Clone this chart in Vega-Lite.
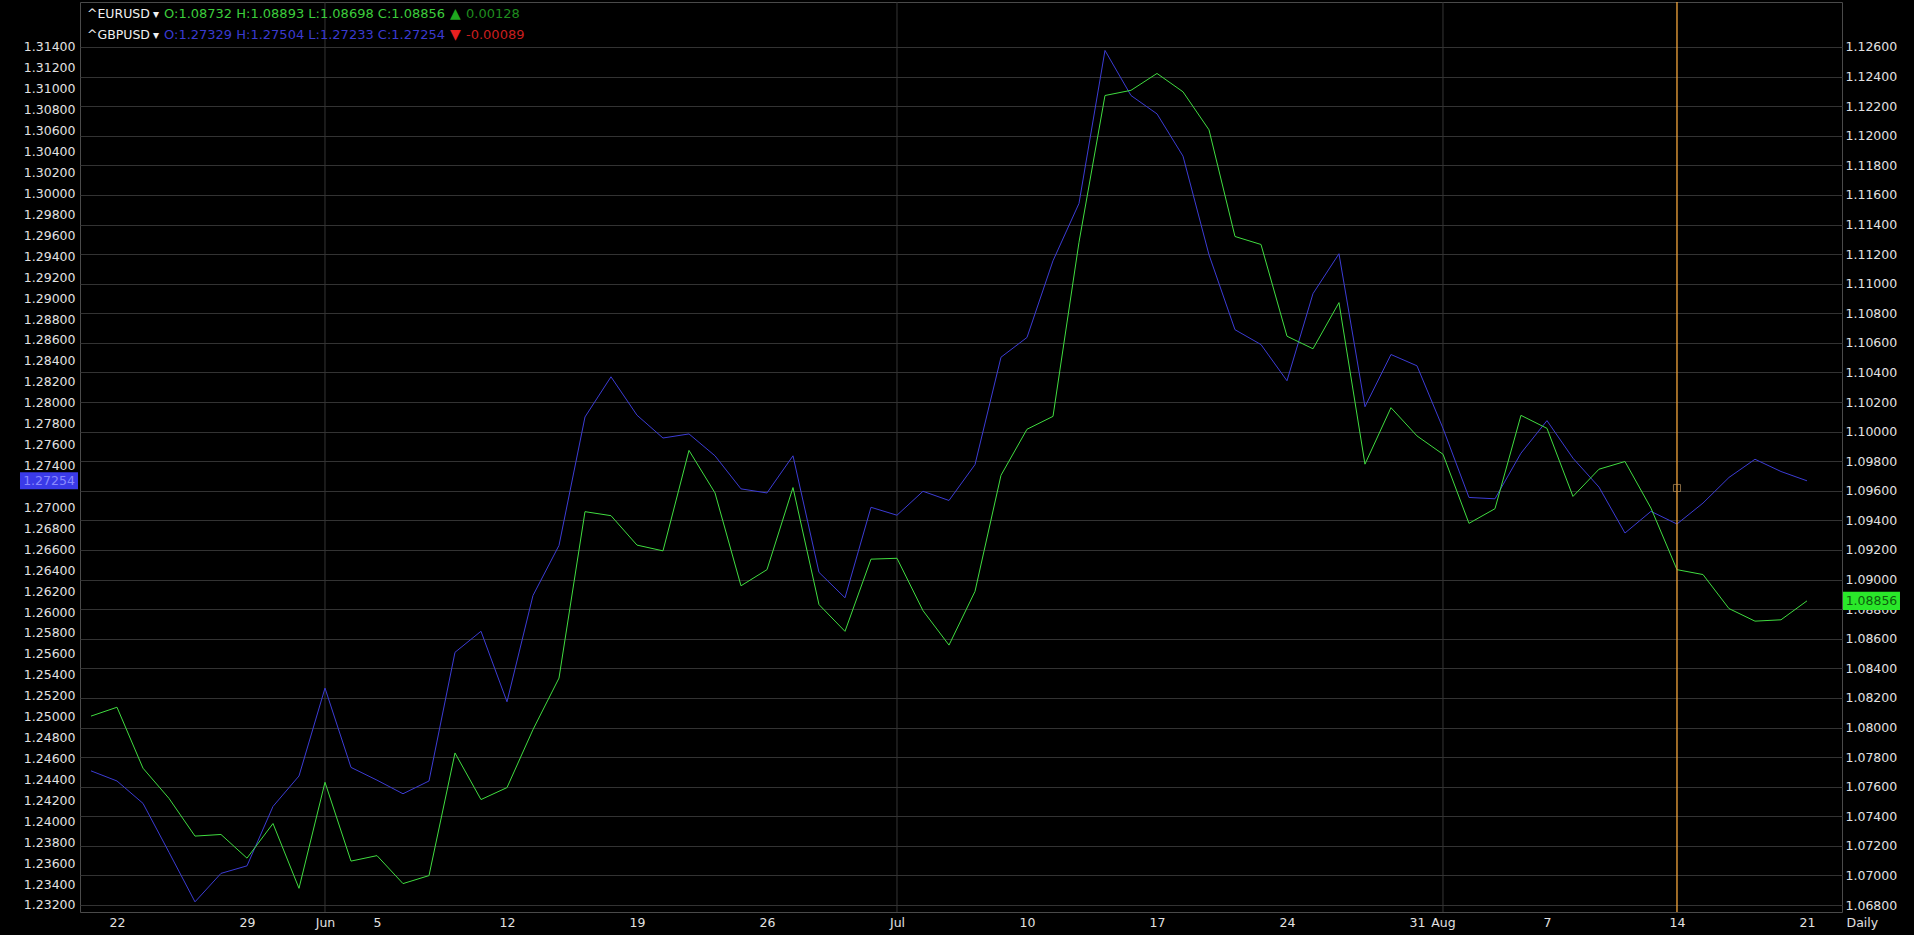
{
  "$schema": "https://vega.github.io/schema/vega-lite/v6.json",
  "width": 1762,
  "height": 910,
  "autosize": {"type": "none"},
  "padding": {"left": 80, "top": 2, "right": 72, "bottom": 23},
  "background": "#000000",
  "datasets": {
    "fx": [
      {"date": "2023-05-19", "gbp": 1.24482, "eur": 1.08077},
      {"date": "2023-05-22", "gbp": 1.24385, "eur": 1.08137},
      {"date": "2023-05-23", "gbp": 1.24171, "eur": 1.07725},
      {"date": "2023-05-24", "gbp": 1.23704, "eur": 1.07521},
      {"date": "2023-05-25", "gbp": 1.23230, "eur": 1.07266},
      {"date": "2023-05-26", "gbp": 1.23502, "eur": 1.07277},
      {"date": "2023-05-29", "gbp": 1.23574, "eur": 1.07117},
      {"date": "2023-05-30", "gbp": 1.24142, "eur": 1.07351},
      {"date": "2023-05-31", "gbp": 1.24433, "eur": 1.06913},
      {"date": "2023-06-01", "gbp": 1.25273, "eur": 1.07630},
      {"date": "2023-06-02", "gbp": 1.24515, "eur": 1.07097},
      {"date": "2023-06-05", "gbp": 1.24393, "eur": 1.07134},
      {"date": "2023-06-06", "gbp": 1.24263, "eur": 1.06945},
      {"date": "2023-06-07", "gbp": 1.24385, "eur": 1.06999},
      {"date": "2023-06-08", "gbp": 1.25615, "eur": 1.07828},
      {"date": "2023-06-09", "gbp": 1.25816, "eur": 1.07513},
      {"date": "2023-06-12", "gbp": 1.25142, "eur": 1.07594},
      {"date": "2023-06-13", "gbp": 1.26158, "eur": 1.07986},
      {"date": "2023-06-14", "gbp": 1.26636, "eur": 1.08334},
      {"date": "2023-06-15", "gbp": 1.27864, "eur": 1.09459},
      {"date": "2023-06-16", "gbp": 1.28248, "eur": 1.09432},
      {"date": "2023-06-19", "gbp": 1.27881, "eur": 1.09233},
      {"date": "2023-06-20", "gbp": 1.27663, "eur": 1.09194},
      {"date": "2023-06-21", "gbp": 1.27702, "eur": 1.09873},
      {"date": "2023-06-22", "gbp": 1.27493, "eur": 1.09586},
      {"date": "2023-06-23", "gbp": 1.27177, "eur": 1.08958},
      {"date": "2023-06-26", "gbp": 1.27138, "eur": 1.09067},
      {"date": "2023-06-27", "gbp": 1.27493, "eur": 1.09622},
      {"date": "2023-06-28", "gbp": 1.26379, "eur": 1.08831},
      {"date": "2023-06-29", "gbp": 1.26136, "eur": 1.08650},
      {"date": "2023-06-30", "gbp": 1.27001, "eur": 1.09138},
      {"date": "2023-07-03", "gbp": 1.26925, "eur": 1.09144},
      {"date": "2023-07-04", "gbp": 1.27154, "eur": 1.08790},
      {"date": "2023-07-05", "gbp": 1.27066, "eur": 1.08557},
      {"date": "2023-07-06", "gbp": 1.27409, "eur": 1.08920},
      {"date": "2023-07-07", "gbp": 1.28435, "eur": 1.09705},
      {"date": "2023-07-10", "gbp": 1.28624, "eur": 1.10016},
      {"date": "2023-07-11", "gbp": 1.29357, "eur": 1.10103},
      {"date": "2023-07-12", "gbp": 1.29905, "eur": 1.11280},
      {"date": "2023-07-13", "gbp": 1.31367, "eur": 1.12272},
      {"date": "2023-07-14", "gbp": 1.30936, "eur": 1.12307},
      {"date": "2023-07-17", "gbp": 1.30761, "eur": 1.12421},
      {"date": "2023-07-18", "gbp": 1.30357, "eur": 1.12297},
      {"date": "2023-07-19", "gbp": 1.29414, "eur": 1.12040},
      {"date": "2023-07-20", "gbp": 1.28698, "eur": 1.11319},
      {"date": "2023-07-21", "gbp": 1.28556, "eur": 1.11265},
      {"date": "2023-07-24", "gbp": 1.28210, "eur": 1.10645},
      {"date": "2023-07-25", "gbp": 1.29043, "eur": 1.10560},
      {"date": "2023-07-26", "gbp": 1.29424, "eur": 1.10872},
      {"date": "2023-07-27", "gbp": 1.27962, "eur": 1.09780},
      {"date": "2023-07-28", "gbp": 1.28461, "eur": 1.10162},
      {"date": "2023-07-31", "gbp": 1.28353, "eur": 1.09971},
      {"date": "2023-08-01", "gbp": 1.27756, "eur": 1.09847},
      {"date": "2023-08-02", "gbp": 1.27095, "eur": 1.09380},
      {"date": "2023-08-03", "gbp": 1.27082, "eur": 1.09479},
      {"date": "2023-08-04", "gbp": 1.27518, "eur": 1.10110},
      {"date": "2023-08-07", "gbp": 1.27829, "eur": 1.10022},
      {"date": "2023-08-08", "gbp": 1.27470, "eur": 1.09562},
      {"date": "2023-08-09", "gbp": 1.27194, "eur": 1.09746},
      {"date": "2023-08-10", "gbp": 1.26755, "eur": 1.09798},
      {"date": "2023-08-11", "gbp": 1.26962, "eur": 1.09483},
      {"date": "2023-08-14", "gbp": 1.26841, "eur": 1.09067},
      {"date": "2023-08-15", "gbp": 1.27041, "eur": 1.09034},
      {"date": "2023-08-16", "gbp": 1.27286, "eur": 1.08804},
      {"date": "2023-08-17", "gbp": 1.27460, "eur": 1.08719},
      {"date": "2023-08-18", "gbp": 1.27343, "eur": 1.08728},
      {"date": "2023-08-21", "gbp": 1.27254, "eur": 1.08856}
    ],
    "months": [
      {"date": "2023-06-01"},
      {"date": "2023-07-03"},
      {"date": "2023-08-01"}
    ],
    "one": [{}]
  },
  "layer": [
    {
      "data": {"name": "months"},
      "mark": {"type": "rule", "color": "#353535", "strokeWidth": 1},
      "encoding": {
        "x": {
          "field": "date",
          "type": "ordinal",
          "scale": {"type": "point", "padding": 0.885, "align": 0.239},
          "axis": {
            "values": ["2023-05-22", "2023-05-29", "2023-06-01", "2023-06-05", "2023-06-12", "2023-06-19", "2023-06-26", "2023-07-03", "2023-07-10", "2023-07-17", "2023-07-24", "2023-07-31", "2023-08-01", "2023-08-07", "2023-08-14", "2023-08-21"],
            "labelExpr": "datum.value == '2023-06-01' ? 'Jun' : datum.value == '2023-07-03' ? 'Jul' : datum.value == '2023-08-01' ? 'Aug' : '' + toNumber(substring(datum.value, 8, 10))",
            "labelAngle": 0,
            "labelOverlap": false,
            "tickCount": 100,
            "ticks": false,
            "domain": false,
            "grid": false,
            "labelPadding": 4,
            "title": "Daily",
            "titleX": 1766,
            "titleY": 10.5,
            "titleAlign": "left",
            "titleBaseline": "middle",
            "titleFontWeight": "normal",
            "titleFontSize": 12.5,
            "titleColor": "#e0e0e0",
            "titleFont": "DejaVu Sans"
          }
        }
      }
    },
    {
      "layer": [
        {
          "data": {"name": "fx"},
          "mark": {"type": "line", "color": "#3c3cd4", "strokeWidth": 1},
          "encoding": {
            "x": {"field": "date", "type": "ordinal"},
            "y": {
              "field": "gbp",
              "type": "quantitative",
              "scale": {"domain": [1.23133, 1.3183], "nice": false, "zero": false},
              "axis": {
                "orient": "left",
                "title": null,
                "values": [1.232, 1.234, 1.236, 1.238, 1.24, 1.242, 1.244, 1.246, 1.248, 1.25, 1.252, 1.254, 1.256, 1.258, 1.26, 1.262, 1.264, 1.266, 1.268, 1.27, 1.274, 1.276, 1.278, 1.28, 1.282, 1.284, 1.286, 1.288, 1.29, 1.292, 1.294, 1.296, 1.298, 1.3, 1.302, 1.304, 1.306, 1.308, 1.31, 1.312, 1.314],
                "format": ".5f",
                "tickCount": 100,
                "labelOverlap": false,
                "labelFlush": false,
                "grid": false,
                "ticks": false,
                "domain": false,
                "labelPadding": 5
              }
            }
          }
        },
        {
          "data": {"name": "one"},
          "mark": {"type": "point", "shape": "M-1,-0.293L1,-0.293L1,0.293L-1,0.293Z", "size": 3364, "filled": true, "color": "#3a3ae8", "opacity": 1, "strokeWidth": 0, "xOffset": -42},
          "encoding": {
            "x": {"datum": "2023-05-19", "type": "ordinal"},
            "y": {"datum": 1.27254, "type": "quantitative", "scale": {"domain": [1.23133, 1.3183], "nice": false, "zero": false}}
          }
        },
        {
          "data": {"name": "one"},
          "mark": {"type": "text", "text": "1.27254", "font": "DejaVu Sans", "fontSize": 12.5, "color": "#8a8aff", "align": "center", "baseline": "middle", "xOffset": -42},
          "encoding": {
            "x": {"datum": "2023-05-19", "type": "ordinal"},
            "y": {"datum": 1.27254, "type": "quantitative", "scale": {"domain": [1.23133, 1.3183], "nice": false, "zero": false}}
          }
        },
        {
          "data": {"name": "one"},
          "mark": {"type": "text", "text": "^EURUSD", "font": "DejaVu Sans", "fontSize": 12.5, "color": "#f0f0f0", "align": "left", "baseline": "middle", "xOffset": -4},
          "encoding": {
            "x": {"datum": "2023-05-19", "type": "ordinal"},
            "y": {"datum": 1.31715, "type": "quantitative", "scale": {"domain": [1.23133, 1.3183], "nice": false, "zero": false}}
          }
        },
        {
          "data": {"name": "one"},
          "mark": {"type": "text", "text": "▾", "font": "DejaVu Sans", "fontSize": 12, "color": "#f0f0f0", "align": "left", "baseline": "middle", "xOffset": 62},
          "encoding": {
            "x": {"datum": "2023-05-19", "type": "ordinal"},
            "y": {"datum": 1.31715, "type": "quantitative", "scale": {"domain": [1.23133, 1.3183], "nice": false, "zero": false}}
          }
        },
        {
          "data": {"name": "one"},
          "mark": {"type": "text", "text": "O:1.08732 H:1.08893 L:1.08698 C:1.08856", "font": "DejaVu Sans", "fontSize": 13, "color": "#3ccc3c", "align": "left", "baseline": "middle", "xOffset": 73},
          "encoding": {
            "x": {"datum": "2023-05-19", "type": "ordinal"},
            "y": {"datum": 1.31715, "type": "quantitative", "scale": {"domain": [1.23133, 1.3183], "nice": false, "zero": false}}
          }
        },
        {
          "data": {"name": "one"},
          "mark": {"type": "text", "text": "▲", "font": "DejaVu Sans", "fontSize": 14, "color": "#1fa81f", "align": "left", "baseline": "middle", "xOffset": 359},
          "encoding": {
            "x": {"datum": "2023-05-19", "type": "ordinal"},
            "y": {"datum": 1.31715, "type": "quantitative", "scale": {"domain": [1.23133, 1.3183], "nice": false, "zero": false}}
          }
        },
        {
          "data": {"name": "one"},
          "mark": {"type": "text", "text": "0.00128", "font": "DejaVu Sans", "fontSize": 13, "color": "#1f8c1f", "align": "left", "baseline": "middle", "xOffset": 375},
          "encoding": {
            "x": {"datum": "2023-05-19", "type": "ordinal"},
            "y": {"datum": 1.31715, "type": "quantitative", "scale": {"domain": [1.23133, 1.3183], "nice": false, "zero": false}}
          }
        },
        {
          "data": {"name": "one"},
          "mark": {"type": "text", "text": "^GBPUSD", "font": "DejaVu Sans", "fontSize": 12.5, "color": "#f0f0f0", "align": "left", "baseline": "middle", "xOffset": -4},
          "encoding": {
            "x": {"datum": "2023-05-19", "type": "ordinal"},
            "y": {"datum": 1.31515, "type": "quantitative", "scale": {"domain": [1.23133, 1.3183], "nice": false, "zero": false}}
          }
        },
        {
          "data": {"name": "one"},
          "mark": {"type": "text", "text": "▾", "font": "DejaVu Sans", "fontSize": 12, "color": "#f0f0f0", "align": "left", "baseline": "middle", "xOffset": 62},
          "encoding": {
            "x": {"datum": "2023-05-19", "type": "ordinal"},
            "y": {"datum": 1.31515, "type": "quantitative", "scale": {"domain": [1.23133, 1.3183], "nice": false, "zero": false}}
          }
        },
        {
          "data": {"name": "one"},
          "mark": {"type": "text", "text": "O:1.27329 H:1.27504 L:1.27233 C:1.27254", "font": "DejaVu Sans", "fontSize": 13, "color": "#3a3ad0", "align": "left", "baseline": "middle", "xOffset": 73},
          "encoding": {
            "x": {"datum": "2023-05-19", "type": "ordinal"},
            "y": {"datum": 1.31515, "type": "quantitative", "scale": {"domain": [1.23133, 1.3183], "nice": false, "zero": false}}
          }
        },
        {
          "data": {"name": "one"},
          "mark": {"type": "text", "text": "▼", "font": "DejaVu Sans", "fontSize": 14, "color": "#e82020", "align": "left", "baseline": "middle", "xOffset": 359},
          "encoding": {
            "x": {"datum": "2023-05-19", "type": "ordinal"},
            "y": {"datum": 1.31515, "type": "quantitative", "scale": {"domain": [1.23133, 1.3183], "nice": false, "zero": false}}
          }
        },
        {
          "data": {"name": "one"},
          "mark": {"type": "text", "text": "-0.00089", "font": "DejaVu Sans", "fontSize": 13, "color": "#c81e1e", "align": "left", "baseline": "middle", "xOffset": 375},
          "encoding": {
            "x": {"datum": "2023-05-19", "type": "ordinal"},
            "y": {"datum": 1.31515, "type": "quantitative", "scale": {"domain": [1.23133, 1.3183], "nice": false, "zero": false}}
          }
        }
      ]
    },
    {
      "layer": [
        {
          "data": {"name": "fx"},
          "mark": {"type": "line", "color": "#40dc40", "strokeWidth": 1},
          "encoding": {
            "x": {"field": "date", "type": "ordinal"},
            "y": {
              "field": "eur",
              "type": "quantitative",
              "scale": {"domain": [1.06753, 1.12904], "nice": false, "zero": false},
              "axis": {
                "orient": "right",
                "title": null,
                "values": [1.068, 1.07, 1.072, 1.074, 1.076, 1.078, 1.08, 1.082, 1.084, 1.086, 1.088, 1.09, 1.092, 1.094, 1.096, 1.098, 1.1, 1.102, 1.104, 1.106, 1.108, 1.11, 1.112, 1.114, 1.116, 1.118, 1.12, 1.122, 1.124, 1.126],
                "format": ".5f",
                "tickCount": 100,
                "labelOverlap": false,
                "labelFlush": false,
                "grid": true,
                "gridColor": "#333333",
                "gridWidth": 1,
                "ticks": false,
                "domain": false,
                "labelPadding": 3
              }
            }
          }
        },
        {
          "data": {"name": "one"},
          "mark": {"type": "rule", "color": "#f2a43c", "strokeWidth": 1.3},
          "encoding": {
            "x": {"datum": "2023-08-14", "type": "ordinal"}
          }
        },
        {
          "data": {"name": "one"},
          "mark": {"type": "point", "shape": "square", "size": 50, "filled": false, "color": "#b8925e", "strokeWidth": 1},
          "encoding": {
            "x": {"datum": "2023-08-14", "type": "ordinal"},
            "y": {"datum": 1.09619, "type": "quantitative", "scale": {"domain": [1.06753, 1.12904], "nice": false, "zero": false}}
          }
        },
        {
          "data": {"name": "one"},
          "mark": {"type": "point", "shape": "M-1,-0.316L1,-0.316L1,0.316L-1,0.316Z", "size": 3249, "filled": true, "color": "#2ae82a", "opacity": 1, "strokeWidth": 0, "xOffset": 64.5},
          "encoding": {
            "x": {"datum": "2023-08-21", "type": "ordinal"},
            "y": {"datum": 1.08856, "type": "quantitative", "scale": {"domain": [1.06753, 1.12904], "nice": false, "zero": false}}
          }
        },
        {
          "data": {"name": "one"},
          "mark": {"type": "text", "text": "1.08856", "font": "DejaVu Sans", "fontSize": 12.5, "color": "#0d5e0d", "align": "center", "baseline": "middle", "xOffset": 64.5},
          "encoding": {
            "x": {"datum": "2023-08-21", "type": "ordinal"},
            "y": {"datum": 1.08856, "type": "quantitative", "scale": {"domain": [1.06753, 1.12904], "nice": false, "zero": false}}
          }
        }
      ]
    }
  ],
  "resolve": {"scale": {"y": "independent"}},
  "config": {
    "view": {"stroke": "#4a4a4a", "strokeWidth": 1},
    "axis": {
      "labelFont": "DejaVu Sans",
      "labelFontSize": 12.5,
      "labelColor": "#e2e2e2"
    }
  }
}
